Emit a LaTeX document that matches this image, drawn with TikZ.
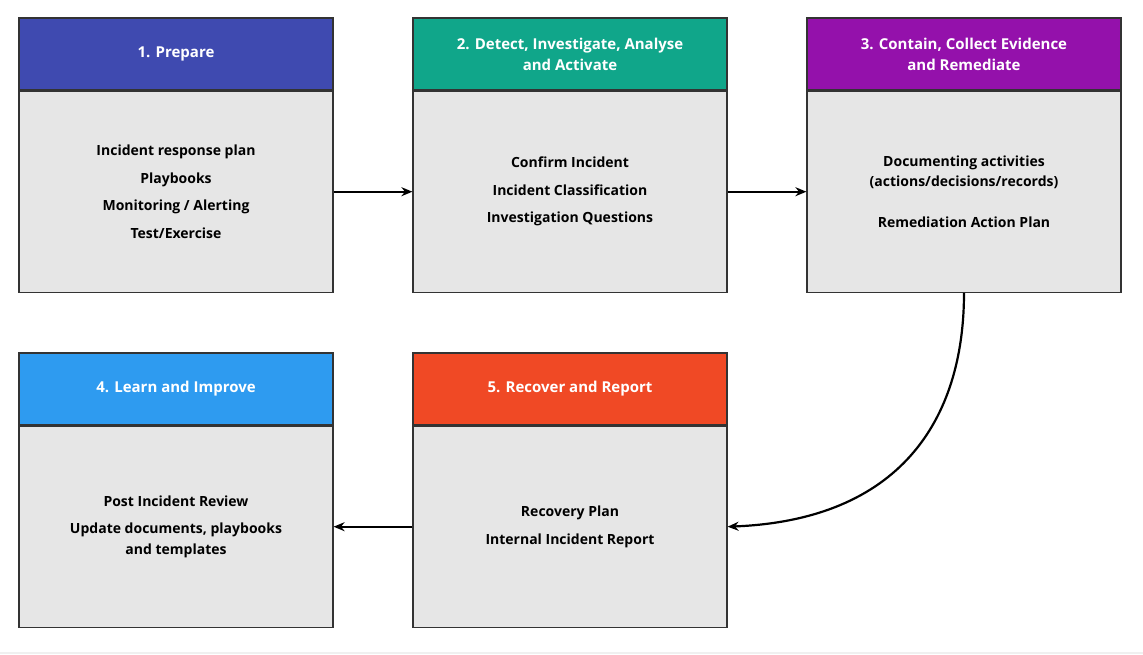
\documentclass[tikz,border=0pt]{standalone}
\usepackage{fontspec}
\setmainfont{Open Sans}
\usetikzlibrary{positioning,arrows.meta}
\definecolor{prepare}{HTML}{3F4AB0}
\definecolor{detect}{HTML}{10A68A}
\definecolor{contain}{HTML}{9411AB}
\definecolor{learn}{HTML}{2E9BF0}
\definecolor{recover}{HTML}{F04925}
\definecolor{bodygray}{HTML}{E6E6E6}
\begin{document}
\begin{tikzpicture}[x=1pt,y=-1pt,
                head/.style={draw=black!80,line width=1.2pt,minimum width=314pt,minimum height=72pt,
                    text=white,font=\fontsize{15}{21}\selectfont\bfseries,align=center,inner sep=0pt},
                body/.style={draw=black!80,fill=bodygray,line width=1.2pt,minimum width=314pt,minimum height=201pt,
                    font=\fontsize{14}{20.5}\selectfont\bfseries,align=center,inner sep=0pt,below=0pt of #1},
                flow/.style={-{Stealth[length=11pt,width=9pt]},line width=2.2pt}
            ]
                \useasboundingbox (0,0) rectangle (1143,654);
                \fill[black!6] (0,652) rectangle (1143,654);
                % top row
                \node[head,fill=prepare] (h1) at (176,54) {1. Prepare};
                \node[body=h1] (b1) {Incident response plan\\[7pt]Playbooks\\[7pt]Monitoring / Alerting\\[7pt]Test/Exercise};
                \node[head,fill=detect] (h2) at (570,54) {2. Detect, Investigate, Analyse\\and Activate};
                \node[body=h2] (b2) {Confirm Incident\\[7pt]Incident Classification\\[7pt]Investigation Questions};
                \node[head,fill=contain] (h3) at (964,54) {3. Contain, Collect Evidence\\and Remediate};
                \node[body=h3] (b3) {Documenting activities\\(actions/decisions/records)\\[20pt]Remediation Action Plan};
                % bottom row
                \node[head,fill=learn] (h4) at (176,389) {4. Learn and Improve};
                \node[body=h4] (b4) {Post Incident Review\\[7pt]Update documents, playbooks\\and templates};
                \node[head,fill=recover] (h5) at (570,389) {5. Recover and Report};
                \node[body=h5] (b5) {Recovery Plan\\[7pt]Internal Incident Report};
                % arrows
                \draw[flow] (b1) -- (b2);
                \draw[flow] (b2) -- (b3);
                \draw[flow] (b3.south) .. controls (964,420) and (900,520) .. (b5.east);
                \draw[flow] (b5) -- (b4);
\end{tikzpicture}
\end{document}
